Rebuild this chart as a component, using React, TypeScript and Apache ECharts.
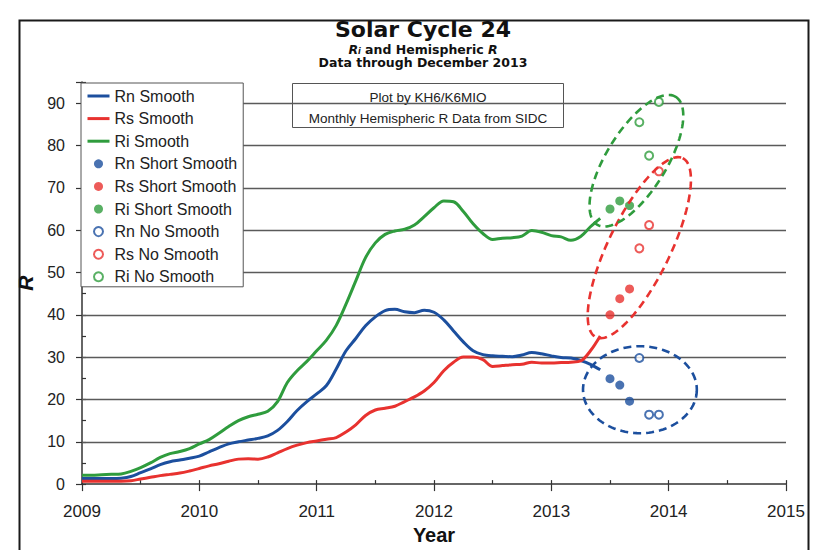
import React, { useEffect, useRef } from 'react';
import * as echarts from 'echarts';

// ---- data ----
const START_MONTH = '2009-01';
// 13-month smoothed monthly values, Jan 2009 .. Jun 2013
const rnSmooth = [
  1.3, 1.3, 1.3, 1.3, 1.4, 1.8, 2.7, 3.6, 4.6, 5.3, 5.7, 6.1,
  6.6, 7.6, 8.6, 9.5, 10.0, 10.4, 10.8, 11.4, 12.7, 14.8, 17.4, 19.5,
  21.3, 23.3, 27.2, 31.5, 34.4, 37.4, 39.5, 41.0, 41.3, 40.7, 40.5, 41.1,
  40.6, 38.8, 36.2, 33.6, 31.5, 30.6, 30.3, 30.2, 30.1, 30.5, 31.1, 30.8,
  30.3, 29.9, 29.8, 29.2, 28.3, 27.0,
];
const rsSmooth = [
  0.7, 0.7, 0.7, 0.7, 0.7, 0.8, 1.2, 1.6, 2.0, 2.3, 2.6, 3.1,
  3.7, 4.3, 4.8, 5.4, 5.9, 6.0, 5.9, 6.4, 7.4, 8.4, 9.2, 9.8,
  10.2, 10.6, 11.0, 12.3, 14.0, 16.2, 17.5, 17.9, 18.4, 19.5, 20.6, 22.0,
  24.0, 26.8, 28.8, 30.0, 30.0, 29.4, 27.8, 28.0, 28.2, 28.3, 28.8, 28.6,
  28.6, 28.7, 28.8, 29.1, 31.5, 35.0,
];
const riSmooth = [
  2.1, 2.1, 2.2, 2.3, 2.4, 3.0, 3.9, 5.0, 6.3, 7.2, 7.7, 8.4,
  9.5, 10.5, 12.0, 13.6, 15.0, 15.9, 16.5, 17.2, 19.5, 24.0, 26.8, 29.0,
  31.5, 34.0, 37.5, 42.5, 48.0, 53.5, 57.0, 59.0, 59.8, 60.2, 61.2, 63.2,
  65.3, 66.9, 66.7, 64.4, 61.5, 59.2, 57.8, 58.1, 58.2, 58.6, 59.9, 59.5,
  58.7, 58.4, 57.6, 58.5, 60.8, 62.8,
];
// short smoothing, Jul..Sep 2013
const shortMonths = ['2013-07', '2013-08', '2013-09'];
const rnShort = [24.9, 23.4, 19.6];
const rsShort = [40.0, 43.8, 46.1];
const riShort = [65.0, 66.9, 65.8];
// no smoothing, Oct..Dec 2013
const noSmoothMonths = ['2013-10', '2013-11', '2013-12'];
const rnNo = [29.8, 16.4, 16.4];
const rsNo = [55.7, 61.2, 73.9];
const riNo = [85.5, 77.6, 90.3];
// axes
const X_MIN = 2009;
const X_MAX = 2015;
const Y_MIN = 0;
const Y_MAX = 95;
const yGridValues = [10, 20, 30, 40, 50, 60, 70, 80, 90];
// highlight ellipses: major-axis end points [year1, value1, year2, value2]
const rnEllipse = [2013.27, 22.3, 2014.24, 22.3];
const rsEllipse = [2013.38, 34.7, 2014.12, 77.0];
const riEllipse = [2013.39, 61.3, 2014.06, 91.5];

const BLUE = '#1c4f9e';
const RED = '#e8322f';
const GREEN = '#2f9c3d';
const FONT = '"Liberation Sans", Arial, sans-serif';
const TFONT = '"DejaVu Sans", Verdana, sans-serif';

const monthToYear = (s: string) => {
  const [y, m] = s.split('-').map(Number);
  return y + (m - 1) / 12;
};
const startYear = monthToYear(START_MONTH);
const monthly = (arr: number[]) => arr.map((v, i) => [startYear + i / 12, v]);
const pointed = (months: string[], arr: number[]) => arr.map((v, i) => [monthToYear(months[i]), v]);

const ellipseSeries = (name: string, e: number[], color: string, minorPx: number) => ({
  type: 'custom',
  name,
  data: [e],
  encode: { x: [0, 2], y: [1, 3] },
  clip: false,
  silent: true,
  z: 4,
  renderItem: (_params: any, api: any) => {
    const p1 = api.coord([api.value(0), api.value(1)]);
    const p2 = api.coord([api.value(2), api.value(3)]);
    const cx = (p1[0] + p2[0]) / 2;
    const cy = (p1[1] + p2[1]) / 2;
    const a = Math.hypot(p2[0] - p1[0], p2[1] - p1[1]) / 2;
    const ang = Math.atan2(p2[1] - p1[1], p2[0] - p1[0]);
    const ca = Math.cos(ang);
    const sa = Math.sin(ang);
    const pts: number[][] = [];
    const N = 120;
    for (let k = 0; k < N; k++) {
      const t = (2 * Math.PI * k) / N;
      const ex = a * Math.cos(t);
      const ey = minorPx * Math.sin(t);
      pts.push([cx + ex * ca - ey * sa, cy + ex * sa + ey * ca]);
    }
    return {
      type: 'polygon',
      shape: { points: pts },
      style: { fill: 'none', stroke: color, lineWidth: 2.6, lineDash: [8, 5] },
    };
  },
});

export default function App() {
  const ref = useRef<HTMLDivElement>(null);
  useEffect(() => {
    if (!ref.current) return;
    const chart = echarts.init(ref.current, undefined, { renderer: 'svg' });
    const lineSeries = (name: string, arr: number[], color: string) => ({
      type: 'line',
      name,
      data: monthly(arr),
      symbol: 'none',
      smooth: 0.35,
      lineStyle: { color, width: 3 },
      itemStyle: { color },
      z: 3,
    });
    const dotSeries = (name: string, months: string[], arr: number[], color: string, empty: boolean) => ({
      type: 'scatter',
      name,
      data: pointed(months, arr),
      symbol: empty ? 'emptyCircle' : 'circle',
      symbolSize: empty ? 8 : 9,
      itemStyle: { color },
      z: 3,
    });
    const lineLegend = (name: string) => ({ name, itemStyle: { opacity: 0 }, lineStyle: { width: 3 } });
    const option: any = {
      animation: false,
      backgroundColor: '#ffffff',
      legend: {
        orient: 'vertical',
        left: 81,
        top: 83,
        backgroundColor: '#ffffff',
        borderColor: '#555',
        borderWidth: 1,
        padding: [4, 6, 1, 5],
        itemWidth: 22,
        itemHeight: 9,
        itemGap: 4.6,
        selectedMode: false,
        textStyle: { fontFamily: FONT, fontSize: 16, lineHeight: 18, color: '#222' },
        data: [
          lineLegend('Rn Smooth'), lineLegend('Rs Smooth'), lineLegend('Ri Smooth'),
          'Rn Short Smooth', 'Rs Short Smooth', 'Ri Short Smooth',
          'Rn No Smooth', 'Rs No Smooth', 'Ri No Smooth',
        ],
        z: 6,
      },
      grid: { left: 82, right: 33, top: 82, bottom: 57, containLabel: false },
      xAxis: [
        {
          type: 'value',
          min: X_MIN,
          max: X_MAX,
          interval: 1,
          name: 'Year',
          nameLocation: 'middle',
          nameGap: 36,
          nameTextStyle: { fontFamily: FONT, fontWeight: 'bold', fontSize: 20, color: '#111' },
          axisLine: { show: true, lineStyle: { color: '#333', width: 1.5 } },
          axisTick: { show: true, length: 7, lineStyle: { color: '#333', width: 1.2 } },
          axisLabel: { margin: 19, fontFamily: FONT, fontSize: 17, color: '#222', formatter: (v: number) => String(v) },
          splitLine: { show: false },
        },
        {
          type: 'value',
          min: X_MIN,
          max: X_MAX,
          interval: 0.5,
          position: 'bottom',
          axisLine: { show: false },
          axisTick: { show: true, inside: true, length: 4, lineStyle: { color: '#333', width: 1.2 } },
          axisLabel: { show: false },
          splitLine: { show: false },
        },
      ],
      yAxis: [
        {
          type: 'value',
          min: Y_MIN,
          max: Y_MAX,
          interval: 10,
          name: 'R',
          nameLocation: 'middle',
          nameRotate: 90,
          nameGap: 46,
          nameTextStyle: { fontFamily: FONT, fontWeight: 'bold', fontStyle: 'italic', fontSize: 21, color: '#111' },
          axisLine: { show: true, lineStyle: { color: '#333', width: 1.5 } },
          axisTick: { show: true, length: 6, lineStyle: { color: '#333', width: 1.2 } },
          axisLabel: {
            margin: 17,
            fontFamily: FONT,
            fontSize: 16,
            color: '#222',
            formatter: (v: number) => (v % 10 === 0 ? String(v) : ''),
          },
          splitLine: { show: false },
        },
        {
          type: 'value',
          min: Y_MIN,
          max: Y_MAX,
          interval: 5,
          position: 'left',
          axisLine: { show: false },
          axisTick: { show: true, inside: true, length: 4, lineStyle: { color: '#333', width: 1.2 } },
          axisLabel: { show: false },
          splitLine: { show: false },
        },
      ],
      graphic: [
        {
          type: 'rect',
          left: 17,
          top: 18,
          shape: { x: 0, y: 0, width: 789, height: 560 },
          style: { fill: 'none', stroke: '#1a1a1a', lineWidth: 2 },
          silent: true,
          z: 0,
        },
        {
          type: 'text',
          x: 423,
          y: 29.5,
          style: { text: 'Solar Cycle 24', fontFamily: TFONT, fontWeight: 'bold', fontSize: 22, lineHeight: 23, fill: '#111', align: 'center', verticalAlign: 'middle' },
        },
        {
          type: 'text',
          x: 423,
          y: 49,
          style: {
            text: '{ri|R}{sub|i}{b| and Hemispheric }{ri|R}',
            align: 'center',
            verticalAlign: 'middle',
            fill: '#111',
            rich: {
              b: { fontFamily: TFONT, fontWeight: 'bold', fontSize: 12.5, lineHeight: 13, fill: '#111' },
              ri: { fontFamily: TFONT, fontWeight: 'bold', fontStyle: 'italic', fontSize: 12.5, lineHeight: 13, fill: '#111' },
              sub: { fontFamily: TFONT, fontWeight: 'bold', fontStyle: 'italic', fontSize: 8, lineHeight: 13, verticalAlign: 'bottom', padding: [5, 0, 0, 0], fill: '#111' },
            },
          },
        },
        {
          type: 'text',
          x: 423,
          y: 62.5,
          style: { text: 'Data through December 2013', fontFamily: TFONT, fontWeight: 'bold', fontSize: 12.5, lineHeight: 13, fill: '#111', align: 'center', verticalAlign: 'middle' },
        },
        {
          type: 'group',
          left: 292,
          top: 83,
          z: 6,
          children: [
            { type: 'rect', shape: { x: 0, y: 0, width: 271, height: 44 }, style: { fill: '#fff', stroke: '#555', lineWidth: 1 } },
            { type: 'text', x: 135.5, y: 13.5, style: { text: 'Plot by KH6/K6MIO', fontFamily: FONT, fontSize: 13.5, fill: '#222', align: 'center', verticalAlign: 'middle' } },
            { type: 'text', x: 135.5, y: 34.5, style: { text: 'Monthly Hemispheric R Data from SIDC', fontFamily: FONT, fontSize: 13.5, fill: '#222', align: 'center', verticalAlign: 'middle' } },
          ],
        },
      ],
      series: [
        {
          type: 'line',
          name: 'grid',
          data: [],
          silent: true,
          markLine: {
            silent: true,
            symbol: 'none',
            z: 1,
            label: { show: false },
            lineStyle: { color: '#5a5a5a', width: 1.3, type: 'solid' },
            data: yGridValues.map((v) => ({ yAxis: v })),
          },
        },
        lineSeries('Rn Smooth', rnSmooth, BLUE),
        lineSeries('Rs Smooth', rsSmooth, RED),
        lineSeries('Ri Smooth', riSmooth, GREEN),
        dotSeries('Rn Short Smooth', shortMonths, rnShort, BLUE, false),
        dotSeries('Rs Short Smooth', shortMonths, rsShort, RED, false),
        dotSeries('Ri Short Smooth', shortMonths, riShort, GREEN, false),
        dotSeries('Rn No Smooth', noSmoothMonths, rnNo, BLUE, true),
        dotSeries('Rs No Smooth', noSmoothMonths, rsNo, RED, true),
        dotSeries('Ri No Smooth', noSmoothMonths, riNo, GREEN, true),
        ellipseSeries('Rn ellipse', rnEllipse, BLUE, 43.5),
        ellipseSeries('Rs ellipse', rsEllipse, RED, 31),
        ellipseSeries('Ri ellipse', riEllipse, GREEN, 30),
      ],
    };
    chart.setOption(option);
    return () => chart.dispose();
  }, []);
  return <div ref={ref} style={{ position: 'absolute', left: 0, top: 0, width: 819, height: 550 }} />;
}
